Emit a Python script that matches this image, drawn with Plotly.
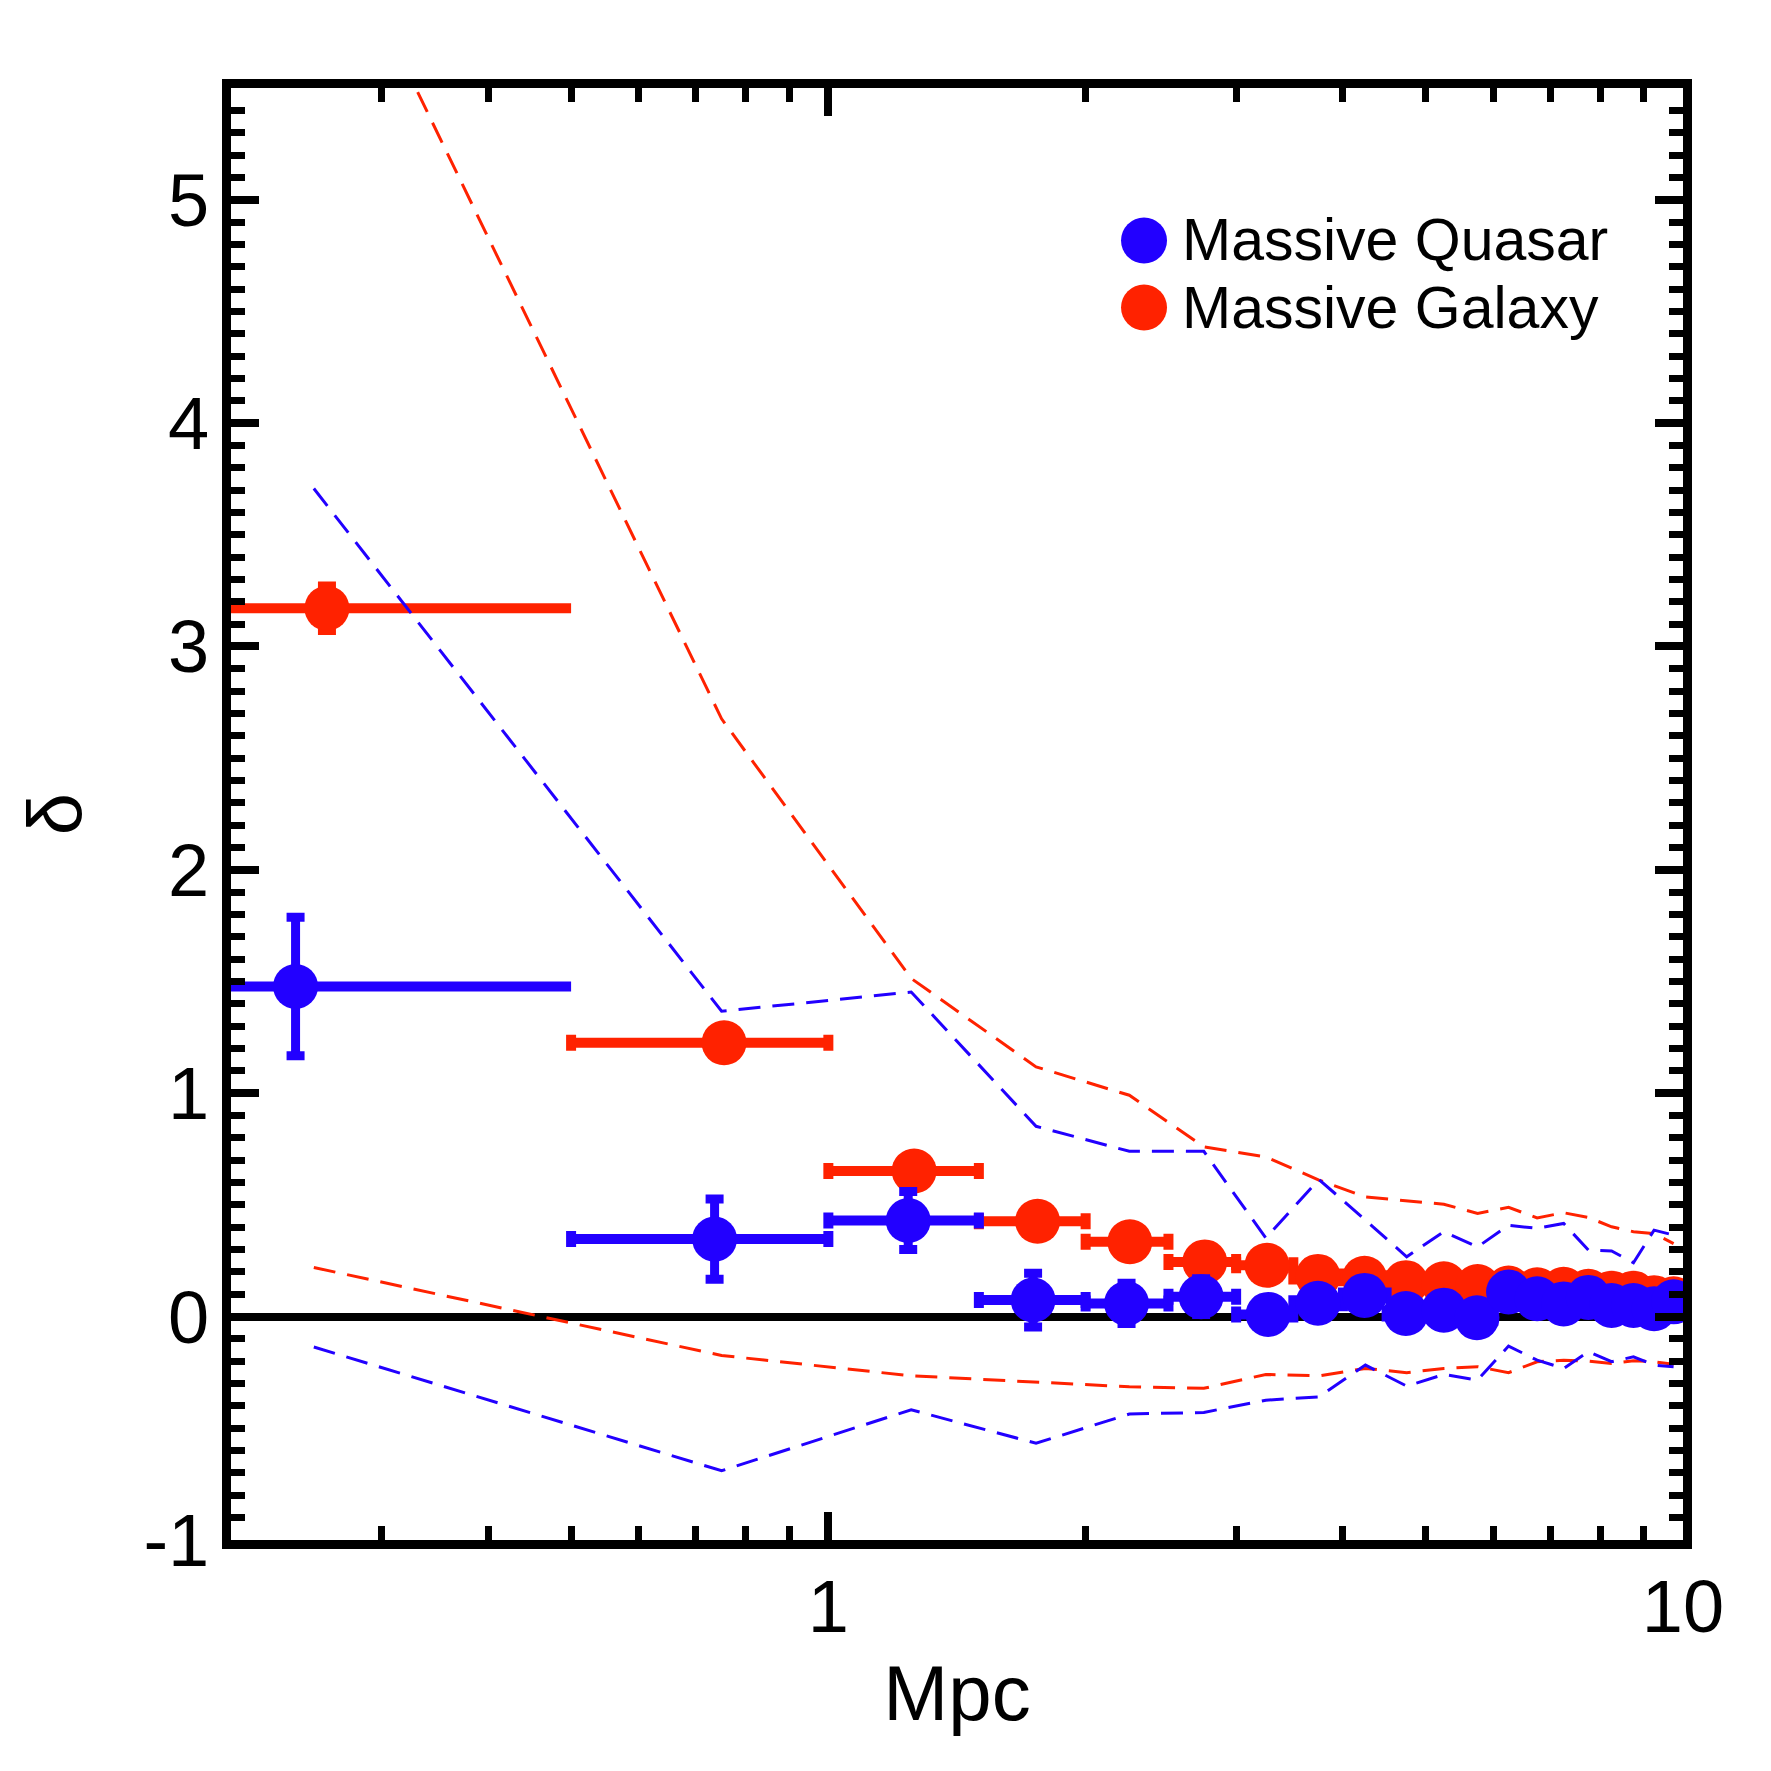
import plotly.graph_objects as go

# ---------------- data ----------------
bin_lo = [0.0, 0.5, 1.0, 1.5, 2.0, 2.5, 3.0, 3.5, 4.0, 4.5, 5.0, 5.5, 6.0, 6.5, 7.0, 7.5, 8.0, 8.5, 9.0, 9.5]
bin_hi = [0.5, 1.0, 1.5, 2.0, 2.5, 3.0, 3.5, 4.0, 4.5, 5.0, 5.5, 6.0, 6.5, 7.0, 7.5, 8.0, 8.5, 9.0, 9.5, 10.0]
bin_mid = [0.25, 0.75, 1.25, 1.75, 2.25, 2.75, 3.25, 3.75, 4.25, 4.75, 5.25, 5.75, 6.25, 6.75, 7.25, 7.75, 8.25, 8.75, 9.25, 9.75]

# Massive Quasar (blue)
quasar_x = [0.238, 0.736, 1.24, 1.736, 2.233, 2.73, 3.27, 3.74, 4.24, 4.74, 5.25, 5.74, 6.25, 6.75, 7.25, 7.75, 8.25, 8.75, 9.25, 9.75]
quasar_y = [1.478, 0.347, 0.43, 0.074, 0.059, 0.089, 0.01, 0.06, 0.095, 0.014, 0.029, -0.005, 0.11, 0.08, 0.057, 0.086, 0.05, 0.05, 0.035, 0.066]
quasar_yerr = [0.31, 0.18, 0.13, 0.12, 0.09, 0.08, 0.07, 0.07, 0.06, 0.06, 0.06, 0.05, 0.05, 0.05, 0.05, 0.05, 0.05, 0.05, 0.05, 0.05]

# Massive Galaxy (red)
galaxy_x = [0.259, 0.755, 1.26, 1.757, 2.253, 2.757, 3.26, 3.74, 4.24, 4.74, 5.25, 5.75, 6.25, 6.75, 7.25, 7.75, 8.25, 8.75, 9.25, 9.75]
galaxy_y = [3.171, 1.226, 0.652, 0.427, 0.335, 0.245, 0.23, 0.18, 0.172, 0.152, 0.147, 0.135, 0.128, 0.12, 0.122, 0.113, 0.105, 0.105, 0.085, 0.08]
galaxy_yerr = [0.10, 0.05, 0.04, 0.03, 0.03, 0.03, 0.03, 0.02, 0.02, 0.02, 0.02, 0.02, 0.02, 0.02, 0.02, 0.02, 0.02, 0.02, 0.02, 0.02]

# envelopes (dashed)
quasar_upper = [3.707, 1.367, 1.453, 0.852, 0.740, 0.740, 0.352, 0.614, 0.432, 0.268, 0.380, 0.312, 0.409, 0.395, 0.417, 0.298, 0.294, 0.241, 0.387, 0.365]
quasar_lower = [-0.136, -0.69, -0.417, -0.567, -0.436, -0.429, -0.374, -0.359, -0.217, -0.311, -0.259, -0.284, -0.132, -0.195, -0.232, -0.157, -0.202, -0.180, -0.217, -0.224]
galaxy_upper = [6.44, 2.676, 1.514, 1.118, 0.991, 0.760, 0.715, 0.611, 0.536, 0.518, 0.503, 0.462, 0.489, 0.442, 0.465, 0.444, 0.402, 0.380, 0.372, 0.327]
galaxy_lower = [0.22, -0.174, -0.265, -0.292, -0.314, -0.321, -0.259, -0.265, -0.232, -0.251, -0.232, -0.224, -0.251, -0.202, -0.195, -0.199, -0.210, -0.198, -0.202, -0.213]

series_names = ["Massive Quasar", "Massive Galaxy"]
x_ticks = [1, 10]
x_ticktext = ["1", "10"]
y_ticks = [-1, 0, 1, 2, 3, 4, 5]
y_ticktext = ["-1", "0", "1", "2", "3", "4", "5"]
x_minor = [0.3, 0.4, 0.5, 0.6, 0.7, 0.8, 0.9, 2, 3, 4, 5, 6, 7, 8, 9]

BLUE = "#2200ff"
RED = "#ff2200"
FONT = "Liberation Sans, Arial, sans-serif"

fig = go.Figure()


def add_points(xs, ys, yerr, color, first):
    sl = slice(0, 1) if first else slice(1, None)
    idx = range(len(xs))[sl]
    x = [xs[i] for i in idx]
    y = [ys[i] for i in idx]
    plus = [bin_hi[i] - xs[i] for i in idx]
    minus = [xs[i] - bin_lo[i] for i in idx]
    ey = [yerr[i] for i in idx]
    fig.add_trace(go.Scatter(
        x=x, y=y, mode="markers",
        marker=dict(size=45, color=color, line=dict(width=0)),
        error_x=dict(type="data", symmetric=False, array=plus, arrayminus=minus,
                     color=color, thickness=10, width=0 if first else 8),
        error_y=dict(type="data", array=ey, color=color, thickness=9, width=9),
        showlegend=False, cliponaxis=True,
    ))


add_points(galaxy_x, galaxy_y, galaxy_yerr, RED, True)
add_points(galaxy_x, galaxy_y, galaxy_yerr, RED, False)
add_points(quasar_x, quasar_y, quasar_yerr, BLUE, True)
add_points(quasar_x, quasar_y, quasar_yerr, BLUE, False)

for ys, color in [(galaxy_upper, RED), (galaxy_lower, RED), (quasar_upper, BLUE), (quasar_lower, BLUE)]:
    fig.add_trace(go.Scatter(
        x=bin_mid, y=ys, mode="lines",
        line=dict(color=color, width=3, dash="22px,12px"),
        showlegend=False,
    ))

# manual legend (large markers)
leg_x = 0.6288
leg_ys = [0.8950, 0.8488]
for name, color, ly in zip(series_names, [BLUE, RED], leg_ys):
    fig.add_shape(type="circle", xref="paper", yref="paper",
                  xsizemode="pixel", ysizemode="pixel",
                  xanchor=leg_x, yanchor=ly, x0=-23, x1=23, y0=-23, y1=23,
                  fillcolor=color, line=dict(width=0))
    fig.add_annotation(xref="paper", yref="paper", x=0.6537, y=ly,
                       xanchor="left", yanchor="middle", showarrow=False,
                       text=name, font=dict(family=FONT, size=59, color="black"))

axis_common = dict(
    showline=True, linewidth=9, linecolor="black", mirror="ticks",
    ticks="inside", tickcolor="black", tickwidth=8, ticklen=28,
    showgrid=False,
    tickfont=dict(family=FONT, size=74, color="black"),
)

fig.update_xaxes(
    type="log", range=[-0.69897, 1.0],
    tickmode="array", tickvals=x_ticks, ticktext=x_ticktext,
    minor=dict(tickmode="array", tickvals=x_minor, ticks="inside", ticklen=14,
               tickwidth=7, tickcolor="black", showgrid=False),
    zeroline=False,
    title=dict(text="Mpc", font=dict(family=FONT, size=78, color="black"), standoff=22),
    ticklabelstandoff=-6,
    **axis_common,
)
fig.update_yaxes(
    range=[-1.0, 5.5],
    tickmode="array", tickvals=y_ticks, ticktext=y_ticktext,
    minor=dict(dtick=0.1, ticks="inside", ticklen=14, tickwidth=7,
               tickcolor="black", showgrid=False),
    zeroline=True, zerolinecolor="black", zerolinewidth=8,
    title=dict(text="δ", font=dict(family=FONT, size=76, color="black"), standoff=40),
    ticklabelstandoff=-2,
    **axis_common,
)

fig.update_layout(
    width=1771, height=1771,
    margin=dict(l=231, r=88, t=88, b=231),
    paper_bgcolor="white", plot_bgcolor="white",
    showlegend=False,
)

fig.write_html("out.html")
